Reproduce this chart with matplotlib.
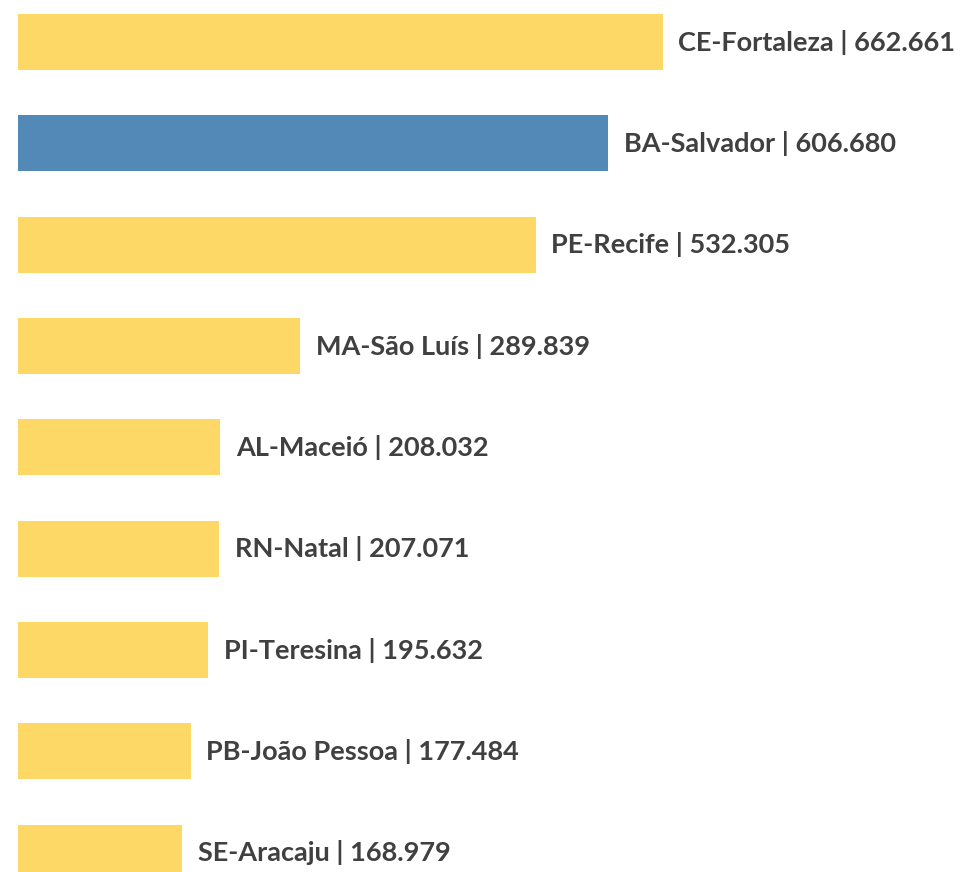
import matplotlib.pyplot as plt

cities = ["CE-Fortaleza", "BA-Salvador", "PE-Recife", "MA-São Luís", "AL-Maceió",
          "RN-Natal", "PI-Teresina", "PB-João Pessoa", "SE-Aracaju"]
values = [662.661, 606.680, 532.305, 289.839, 208.032, 207.071, 195.632, 177.484, 168.979]
labels = ["662.661", "606.680", "532.305", "289.839", "208.032", "207.071", "195.632", "177.484", "168.979"]
highlight = "BA-Salvador"

yellow = "#FDD867"
blue = "#5389B6"

fig = plt.figure(figsize=(9.6, 8.72), dpi=100)
ax = fig.add_axes([0, 0, 1, 1])

pos = list(range(len(cities)))
colors = [blue if c == highlight else yellow for c in cities]
ax.barh(pos, values, height=0.553, color=colors)

for i, (c, v, l) in enumerate(zip(cities, values, labels)):
    ax.text(v + 16, i, f"{c} | {l}", va="center", ha="left",
            fontsize=19.5, fontweight="bold", color="#404040", family="Lato")

ax.set_xlim(-18.5, 968.2)
ax.set_ylim(8.19, -0.415)
ax.axis("off")

fig.savefig("out.png", dpi=100)
